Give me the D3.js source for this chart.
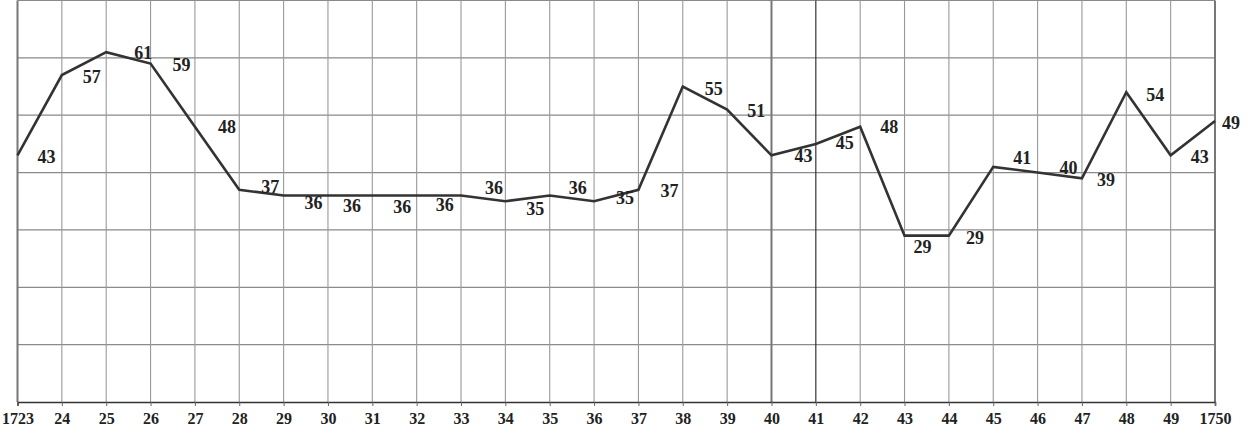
<!DOCTYPE html>
<html><head><meta charset="utf-8">
<script src="https://cdn.jsdelivr.net/npm/d3@7"></script>
<style>body{margin:0;background:#fff}svg{display:block}
text{font-family:'Liberation Serif','Times New Roman',serif;font-weight:bold}</style>
</head><body>
<svg id="c" width="1249" height="438"></svg>
<script>
const years = d3.range(1723, 1751);
const values = [43,57,61,59,48,37,36,36,36,36,36,35,36,35,37,55,51,43,45,48,29,29,41,40,39,54,43,49];
const tickLabels = years.map((y,i)=> (i===0||i===years.length-1) ? String(y) : String(y).slice(2));
const yTicks = [0,10,20,30,40,50,60,70];
// label offsets in px (dx, dy) relative to each point
const labelOffsets = [[29,2],[30,2],[37,1],[31,1],[32,0],[31,-3],[30,7],[24,10],[30,11],[28,9],[33,-8],[30,8],[28,-8],[31,-3],[31,1],[31,2],[29,2],[32,1],[29,-1],[29,0],[18,11],[26,2],[29,-9],[31,-5],[24,2],[29,3],[29,2],[16,2]];

const svg = d3.select("#c");
const x = d3.scaleLinear().domain([1723,1750]).range([17.5,1215]);
const y = d3.scaleLinear().domain([0,70]).range([402,0.5]);

const g = svg.append("g");
g.selectAll("line.h").data(yTicks.slice(1)).join("line")
  .attr("x1",x(1723)).attr("x2",x(1750))
  .attr("y1",d=>y(d)).attr("y2",d=>y(d))
  .attr("stroke","#8a8a8a").attr("stroke-width",1.2);
g.selectAll("line.v").data(years).join("line")
  .attr("x1",d=>x(d)).attr("x2",d=>x(d))
  .attr("y1",y(70)).attr("y2",y(0))
  .attr("stroke",d=> d===1741 ? "#222" : (d===1723||d===1750||d===1740) ? "#777" : "#999")
  .attr("stroke-width",d=> (d===1740||d===1750||d===1723)?2:1.1);

const ax = d3.axisBottom(x).tickValues(years).tickSize(4).tickFormat((d,i)=>tickLabels[i]);
const axg = svg.append("g").attr("transform",`translate(0,${y(0)})`).call(ax);
axg.attr("font-family",null).attr("font-size",null);
axg.select(".domain").attr("stroke","#333").attr("stroke-width",1.6);
axg.selectAll(".tick line").attr("stroke","#666");
axg.selectAll(".tick text").attr("font-size",16).attr("fill","#222").attr("y",7).attr("dy","0.95em");

const line = d3.line().x((d,i)=>x(years[i])).y(d=>y(d));
svg.append("path").datum(values).attr("d",line)
  .attr("fill","none").attr("stroke","#333").attr("stroke-width",2.6).attr("stroke-linejoin","miter");

svg.selectAll("text.lab").data(values).join("text")
  .attr("x",(d,i)=>x(years[i])+labelOffsets[i][0])
  .attr("y",(d,i)=>y(d)+labelOffsets[i][1])
  .attr("text-anchor","middle").attr("dominant-baseline","central")
  .attr("font-size",18).attr("fill","#222")
  .text(d=>d);
</script>
</body></html>
